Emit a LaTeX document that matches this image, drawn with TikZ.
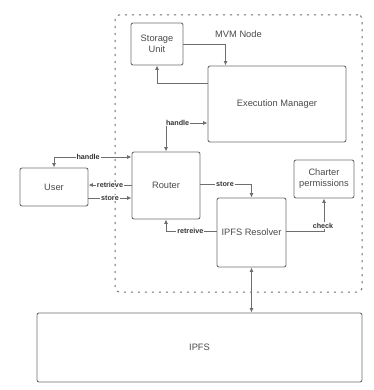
\documentclass[tikz,border=0pt]{standalone}
\usepackage{fontspec}
\setmainfont{Liberation Sans}
\usepackage{xcolor}
\usepackage{tikz}
\usetikzlibrary{arrows.meta,positioning,calc}
\definecolor{edge}{HTML}{6E6E6E}
\definecolor{ink}{HTML}{4A4A4A}

\begin{document}
\begin{tikzpicture}[x=1pt, y=-1pt,
  font=\fontsize{9.3}{11}\selectfont,
  box/.style={draw=edge, line width=0.9pt, rounded corners=2pt, align=center, text=ink, inner sep=0pt},
  lab/.style={font=\fontsize{7.2}{8}\selectfont\bfseries, text=ink!70!black, fill=white, inner sep=0.8pt},
  arr/.style={-{Latex[length=4.5pt, width=4pt]}, draw=edge, line width=0.9pt},
  biarr/.style={{Latex[length=4.5pt, width=4pt]}-{Latex[length=4.5pt, width=4pt]}, draw=edge, line width=0.9pt}]
  \useasboundingbox (0,0) rectangle (373,390);
  % MVM node frame
  \node[draw=edge, line width=1pt, dash pattern=on 2.2pt off 4.8pt, rounded corners=4pt,
        minimum width=247pt, minimum height=277pt] (mvm) at (238.5,153.5) {};
  \node[text=ink] (mvmlab) at (238.5,34) {MVM Node};
  % boxes inside the node
  \node[box, minimum width=52pt, minimum height=42pt] (su) at (157,44) {Storage\\Unit};
  \node[box, minimum width=138pt, minimum height=76pt] (em) at (277,104) {Execution Manager};
  \node[box, minimum width=68pt, minimum height=67pt] (router) at (166,185.5) {Router};
  \node[box, minimum width=69pt, minimum height=69pt] (res) at (251.5,232.5) {IPFS Resolver};
  \node[box, minimum width=60pt, minimum height=38pt] (cp) at (324,179) {Charter\\permissions};
  % outside
  \node[box, minimum width=68pt, minimum height=38pt] (user) at (54,187) {User};
  \node[box, minimum width=325pt, minimum height=69pt] (ipfs) at (199.5,347.5) {IPFS};
  % storage and execution
  \draw[arr] (su.east) -| ($(em.north west)+(18,0)$);
  \draw[arr] ([yshift=21pt]em.west) -| (su.south);
  \draw[biarr] (router.north) |- ([yshift=-19pt]em.west) node[lab, pos=0.64]{handle};
  % user and router
  \draw[biarr] (user.north) |- ([yshift=28.5pt]router.west) node[lab, pos=0.72]{handle};
  \draw[arr] ([yshift=0.5pt]router.west) -- ([yshift=0.5pt]router.west -| user.east) node[lab, pos=0.5]{retrieve};
  \draw[arr] ([yshift=-11pt]user.east) -- ([yshift=-11pt]user.east -| router.west) node[lab, pos=0.5]{store};
  % router and resolver
  \draw[arr] ([yshift=1.5pt]router.east) -| (res.north) node[lab, pos=0.24]{store};
  \draw[arr] ([yshift=1.5pt]res.west) -| (router.south) node[lab, pos=0.26]{retreive};
  \draw[arr] ([yshift=1.5pt]res.east) -| (cp.south) node[lab, pos=0.5, above=1.5pt, xshift=-1pt]{check};
  % resolver and ipfs
  \draw[biarr] (res.south) -- (res.south |- ipfs.north);
\end{tikzpicture}
\end{document}
